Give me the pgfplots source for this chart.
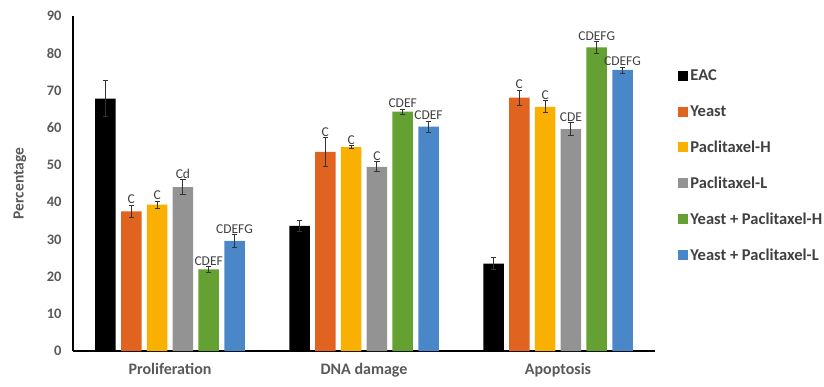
\documentclass[border=0pt]{standalone}
\usepackage{pgfplots}
\usepackage{pgfplotstable}
\usepackage{fontspec}
\setmainfont{Carlito}
\pgfplotsset{compat=1.18}
\definecolor{cEAC}{HTML}{000000}
\definecolor{cYeast}{HTML}{E0641F}
\definecolor{cPH}{HTML}{F9B000}
\definecolor{cPL}{HTML}{939393}
\definecolor{cYPH}{HTML}{64A032}
\definecolor{cYPL}{HTML}{4A87C8}
\definecolor{txt}{HTML}{595959}
\definecolor{lab}{HTML}{404040}

\pgfplotstableread{
x y e lab
0 67.8 4.8 {}
1 33.6 1.5 {}
2 23.5 1.6 {}
}\tEAC
\pgfplotstableread{
x y e lab
0 37.5 1.7 C
1 53.5 3.8 C
2 68.1 2.0 C
}\tYeast
\pgfplotstableread{
x y e lab
0 39.3 1.0 C
1 54.8 0.3 C
2 65.6 1.6 C
}\tPH
\pgfplotstableread{
x y e lab
0 44.0 2.0 Cd
1 49.5 1.3 C
2 59.6 1.7 CDE
}\tPL
\pgfplotstableread{
x y e lab
0 21.9 0.8 CDEF
1 64.3 0.7 CDEF
2 81.6 1.6 CDEFG
}\tYPH
\pgfplotstableread{
x y e lab
0 29.6 1.7 CDEFG
1 60.3 1.5 CDEF
2 75.5 0.8 CDEFG
}\tYPL

\begin{document}
\begin{tikzpicture}
\path[use as bounding box] (0,0) rectangle (824pt,386pt);
\begin{axis}[
  at={(73pt,35pt)}, anchor=south west,
  width=582pt, height=335pt, scale only axis,
  ybar=5.3pt, bar width=20.5pt,
  xmin=-0.5, xmax=2.5, ymin=0, ymax=90,
  enlargelimits=false, clip=false,
  axis x line*=bottom, axis y line*=left,
  axis line style={-, line width=1.3pt, black},
  xtick={0,1,2}, xticklabels={Proliferation, DNA damage, Apoptosis},
  ytick={0,10,...,90},
  major tick length=0pt,
  /pgf/number format/assume math mode=true,
  yticklabel style={font=\fontsize{14.5}{16}\selectfont\bfseries, text=txt, xshift=-8pt},
  xticklabel style={font=\fontsize{16}{18}\selectfont\bfseries, text=txt, yshift=-9pt},
  ylabel={Percentage},
  every axis y label/.style={at={(rel axis cs:-0.091,0.5)}, rotate=90, anchor=center,
    font=\fontsize{15.5}{18}\selectfont\bfseries, text=txt},
  legend style={at={(rel axis cs:1.04,0.845)}, anchor=north west, draw=none, fill=none,
    font=\fontsize{16.5}{19}\selectfont\bfseries, text=lab, row sep=19pt, inner sep=0pt,
    /tikz/every even column/.append style={column sep=3pt}},
  legend cell align=left,
  legend image code/.code={\fill[#1] (0pt,-5pt) rectangle (10pt,5pt);},
  error bars/y dir=both, error bars/y explicit,
  error bars/error bar style={line width=0.9pt, color=black!80},
  error bars/error mark options={rotate=90, mark size=2.6pt, line width=0.9pt, color=black!80},
  point meta=explicit symbolic,
  visualization depends on={\thisrow{e} \as \myerr},
  nodes near coords style={font=\fontsize{13.5}{15}\selectfont, text=lab, anchor=south, inner sep=1pt,
    shift={(axis direction cs:0,\myerr)}},
]
\addplot[fill=cEAC, draw=none] table[x=x, y=y, y error=e, meta=lab] {\tEAC};
\addplot[fill=cYeast, draw=none, nodes near coords] table[x=x, y=y, y error=e, meta=lab] {\tYeast};
\addplot[fill=cPH, draw=none, nodes near coords] table[x=x, y=y, y error=e, meta=lab] {\tPH};
\addplot[fill=cPL, draw=none, nodes near coords] table[x=x, y=y, y error=e, meta=lab] {\tPL};
\addplot[fill=cYPH, draw=none, nodes near coords] table[x=x, y=y, y error=e, meta=lab] {\tYPH};
\addplot[fill=cYPL, draw=none, nodes near coords] table[x=x, y=y, y error=e, meta=lab] {\tYPL};
\legend{EAC, Yeast, Paclitaxel-H, Paclitaxel-L, Yeast + Paclitaxel-H, Yeast + Paclitaxel-L}
\end{axis}
\end{tikzpicture}
\end{document}
